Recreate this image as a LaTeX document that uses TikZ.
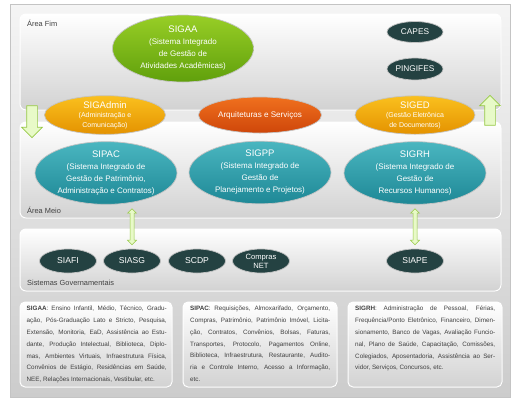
\documentclass[tikz,border=0pt]{standalone}
\usepackage{fontspec}
\setmainfont{Liberation Sans}
\usetikzlibrary{shapes.geometric,shapes.arrows,shadows}

\definecolor{framelo}{RGB}{204,204,204}
\definecolor{panello}{RGB}{210,210,210}
\definecolor{rimgray}{RGB}{196,196,196}
\definecolor{greenhi}{RGB}{152,206,38}
\definecolor{greenlo}{RGB}{96,160,12}
\definecolor{orangehi}{RGB}{250,192,30}
\definecolor{orangelo}{RGB}{228,146,0}
\definecolor{redhi}{RGB}{240,112,30}
\definecolor{redlo}{RGB}{206,70,10}
\definecolor{tealhi}{RGB}{74,182,192}
\definecolor{teallo}{RGB}{30,136,150}
\definecolor{govdark}{RGB}{36,66,66}
\definecolor{arrowfill}{RGB}{232,250,200}
\definecolor{arrowrim}{RGB}{150,200,70}
\definecolor{txtgray}{RGB}{64,64,64}

\begin{document}
\begin{tikzpicture}[x=1pt,y=-1pt,
  panel/.style={draw=white, line width=1pt, rounded corners=6pt, top color=white, bottom color=panello, drop shadow={opacity=0.15, shadow xshift=0.6pt, shadow yshift=-0.6pt}},
  sys/.style={ellipse, draw=rimgray, line width=0.7pt, inner sep=0pt, text=white, align=center},
  bigsys/.style={sys, top color=tealhi, bottom color=teallo, minimum width=142pt, minimum height=62pt, font=\fontsize{8}{12}\selectfont},
  midsys/.style={sys, minimum width=121pt, minimum height=36pt, font=\fontsize{7}{9.5}\selectfont},
  govsys/.style={sys, fill=govdark, minimum width=57pt, minimum height=24pt, font=\fontsize{8.6}{9}\selectfont},
  lbl/.style={anchor=west, text=txtgray, font=\fontsize{7.4}{8}\selectfont, inner sep=0pt},
  notebox/.style={draw=white, line width=1pt, rounded corners=5pt, top color=white, bottom color=panello, drop shadow={opacity=0.15, shadow xshift=0.6pt, shadow yshift=-0.6pt}},
  notetext/.style={anchor=north west, inner sep=0pt, text width=140pt, align=justify, text=txtgray, font=\fontsize{6.3}{11.8}\selectfont},
  bigarrow/.style={single arrow, draw=arrowrim, fill=arrowfill, line width=0.7pt, inner xsep=0pt, inner ysep=5pt, single arrow head extend=5pt, single arrow head indent=0pt},
  dblarrow/.style={double arrow, draw=arrowrim, fill=arrowfill, line width=0.5pt, inner xsep=0pt, inner ysep=1.75pt, minimum height=36pt, double arrow head extend=2.5pt, double arrow head indent=0pt, rotate=90}]

\useasboundingbox (0,0) rectangle (519,408);
\draw[draw=rimgray, top color=white!96!black, bottom color=framelo, drop shadow={opacity=0.2, shadow xshift=1pt, shadow yshift=-1pt}] (10,4) rectangle (510,397);

\draw[panel] (20,14) rectangle (501,110);
\draw[panel] (20,122) rectangle (501,218);
\draw[panel] (20,229) rectangle (501,291);
\node[lbl] (fimlbl) at (27,23) {Área Fim};
\node[lbl] (meiolbl) at (27,210) {Área Meio};
\node[lbl] (govlbl) at (27,283) {Sistemas Governamentais};

\node[sys, top color=greenhi, bottom color=greenlo, minimum width=141pt, minimum height=67pt, font=\fontsize{8}{12}\selectfont] (sigaa) at (183,48.5) {{\fontsize{9.5}{12}\selectfont SIGAA}\\(Sistema Integrado\\de Gestão de\\Atividades Acadêmicas)};
\node[govsys, minimum width=56pt, minimum height=21pt, font=\fontsize{8.3}{9}\selectfont] (capes) at (415,32) {CAPES};
\node[govsys, minimum width=56pt, minimum height=22pt, font=\fontsize{8.3}{9}\selectfont] (pingifes) at (415,69) {PINGIFES};

\node[midsys, top color=orangehi, bottom color=orangelo] (sigadmin) at (105,115) {{\fontsize{9.5}{9.5}\selectfont SIGAdmin}\\(Administração e\\Comunicação)};
\node[midsys, top color=redhi, bottom color=redlo, minimum width=123pt, font=\fontsize{8.1}{9}\selectfont] (arq) at (260,115) {Arquiteturas e Serviços};
\node[midsys, top color=orangehi, bottom color=orangelo, minimum width=120pt] (siged) at (415,115) {{\fontsize{9.5}{9.5}\selectfont SIGED}\\(Gestão Eletrônica\\de Documentos)};

\node[bigsys] (sipac) at (106,173) {{\fontsize{9.5}{12}\selectfont SIPAC}\\(Sistema Integrado de\\Gestão de Patrimônio,\\Administração e Contratos)};
\node[bigsys] (sigpp) at (260,172.5) {{\fontsize{9.5}{12}\selectfont SIGPP}\\(Sistema Integrado de\\Gestão de\\Planejamento e Projetos)};
\node[bigsys] (sigrh) at (415,173) {{\fontsize{9.5}{12}\selectfont SIGRH}\\(Sistema Integrado de\\Gestão de\\Recursos Humanos)};

\node[govsys] (siafi) at (68,261) {SIAFI};
\node[govsys] (siasg) at (132,261) {SIASG};
\node[govsys] (scdp) at (197,261) {SCDP};
\node[govsys, font=\fontsize{7.6}{9}\selectfont] (compras) at (261,261) {Compras\\NET};
\node[govsys] (siape) at (415,261) {SIAPE};

\node[bigarrow, minimum height=32pt, rotate=-90] (down) at (32,119) {};
\node[bigarrow, minimum height=30pt, rotate=90] (up) at (490,113) {};
\path (siasg.north |- sipac.south) -- node[dblarrow] (link1) {} (siasg.north);
\path (sigrh.south) -- node[dblarrow] (link2) {} (siape.north);

\draw[notebox] (20,302) rectangle (172,387);
\draw[notebox] (183,302) rectangle (337,387);
\draw[notebox] (348,302) rectangle (502,387);
\node[notetext] (sigaanote) at (26.5,306) {\textbf{SIGAA}: Ensino Infantil, Médio, Técnico, Gradu-\linebreak ação, Pós-Graduação Lato e Stricto, Pesquisa,\linebreak Extensão, Monitoria, EaD, Assistência ao Estu-\linebreak dante, Produção Intelectual, Biblioteca, Diplo-\linebreak mas, Ambientes Virtuais, Infraestrutura Física,\linebreak Convênios de Estágio, Residências em Saúde,\linebreak NEE, Relações Internacionais, Vestibular, etc.};
\node[notetext] (sipacnote) at (190,306) {\textbf{SIPAC}: Requisições, Almoxarifado, Orçamento,\linebreak Compras, Patrimônio, Patrimônio Imóvel, Licita-\linebreak ção, Contratos, Convênios, Bolsas, Faturas,\linebreak Transportes, Protocolo, Pagamentos Online,\linebreak Biblioteca, Infraestrutura, Restaurante, Audito-\linebreak ria e Controle Interno, Acesso a Informação,\linebreak etc.};
\node[notetext] (sigrhnote) at (355,306) {\textbf{SIGRH}: Administração de Pessoal, Férias,\linebreak Frequência/Ponto Eletrônico, Financeiro, Dimen-\linebreak sionamento, Banco de Vagas, Avaliação Funcio-\linebreak nal, Plano de Saúde, Capacitação, Comissões,\linebreak Colegiados, Aposentadoria, Assistência ao Ser-\linebreak vidor, Serviços, Concursos, etc.};
\end{tikzpicture}
\end{document}
